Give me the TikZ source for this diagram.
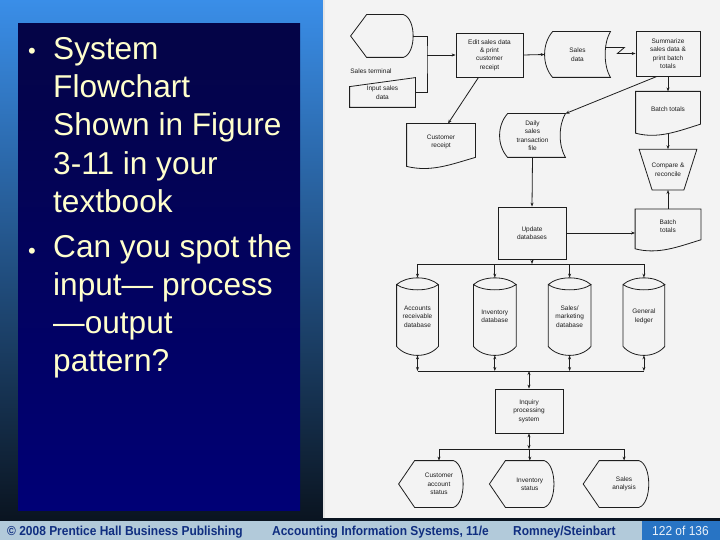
\documentclass[tikz,border=0pt]{standalone}
\usepackage{fontspec}
\setmainfont{Liberation Sans}
\newfontfamily\footfont[FakeStretch=0.92]{Liberation Sans}
\usetikzlibrary{arrows.meta, positioning}

\definecolor{slidetop}{RGB}{58,142,232}
\definecolor{slidemid}{RGB}{36,96,160}
\definecolor{slidebot}{RGB}{10,20,32}
\definecolor{paneltop}{RGB}{4,4,70}
\definecolor{panelbot}{RGB}{0,0,118}
\definecolor{bullettext}{RGB}{255,255,204}
\definecolor{scanbg}{RGB}{243,243,243}
\definecolor{ink}{RGB}{30,30,30}
\definecolor{footbg}{RGB}{178,202,218}
\definecolor{foottext}{RGB}{16,46,128}
\definecolor{pagebox}{RGB}{40,116,196}

\newcommand{\chartsize}{\fontsize{6.5}{8.4}\selectfont}

% flowchart symbols, drawn round a named node
\newcommand{\docshape}[1]{\draw (#1.north west) -- (#1.north east) -- ([yshift=3]#1.south east)
  .. controls ([xshift=10,yshift=-4]#1.south) and ([xshift=-10,yshift=-12]#1.south) .. ([yshift=-6]#1.south west) -- cycle;}
\newcommand{\storeshape}[1]{\draw ([xshift=8]#1.north west) -- (#1.north east)
  .. controls ([xshift=-7,yshift=-12]#1.north east) and ([xshift=-7,yshift=12]#1.south east) .. (#1.south east)
  -- ([xshift=8]#1.south west)
  .. controls ([xshift=-2.7,yshift=12]#1.south west) and ([xshift=-2.7,yshift=-12]#1.north west) .. ([xshift=8]#1.north west) -- cycle;}
\newcommand{\diskshape}[1]{\draw ([yshift=-7]#1.north west)
  .. controls ([xshift=10,yshift=2]#1.north west) and ([xshift=-10,yshift=2]#1.north east) .. ([yshift=-7]#1.north east)
  .. controls ([xshift=-10,yshift=-14]#1.north east) and ([xshift=10,yshift=-14]#1.north west) .. ([yshift=-7]#1.north west)
  -- ([yshift=9]#1.south west)
  .. controls ([xshift=10,yshift=-3]#1.south west) and ([xshift=-10,yshift=-3]#1.south east) .. ([yshift=9]#1.south east)
  -- ([yshift=-7]#1.north east);}
\newcommand{\displayshape}[1]{\draw ([xshift=-16]#1.west) -- (#1.north west) -- ([xshift=-10]#1.north east)
  .. controls ([xshift=3,yshift=-4]#1.north east) and ([xshift=3,yshift=4]#1.south east) .. ([xshift=-10]#1.south east)
  -- (#1.south west) -- cycle;}
\newcommand{\inputshape}[1]{\draw ([yshift=-9]#1.north west) -- (#1.north east) -- (#1.south east) -- (#1.south west) -- cycle;}
\newcommand{\manualshape}[1]{\draw (#1.north west) -- (#1.north east) -- ([xshift=-13]#1.south east) -- ([xshift=13]#1.south west) -- cycle;}

\begin{document}
\begin{tikzpicture}[x=1pt, y=-1pt,
    sym/.style={inner sep=0pt, align=center, font=\chartsize},
    proc/.style={sym, draw},
    arr/.style={-{Stealth[length=4pt, width=3pt]}},
    dbl/.style={{Stealth[length=4pt, width=3pt]}-{Stealth[length=4pt, width=3pt]}},
    bullet/.style={anchor=north west, inner sep=0pt, align=left, text=bullettext, font={\fontsize{31.6}{38.3}\selectfont}},
    dot/.style={inner sep=0pt, text=bullettext, font={\fontsize{22}{22}\selectfont}},
    foot/.style={anchor=base west, inner sep=0pt, text=foottext, font={\footfont\bfseries\fontsize{13}{15}\selectfont}}]
    \useasboundingbox (0,0) rectangle (720,540);
    % slide background
    \shade[top color=slidetop, middle color=slidemid, bottom color=slidebot] (0,0) rectangle (324,521);
    \shade[top color=paneltop, bottom color=panelbot] (18,24) rectangle (300,510);
    \fill[scanbg] (324,0) rectangle (720,518);
    \fill[slidebot] (324,518) rectangle (720,521);
    \draw[white!80!gray, line width=1.5pt] (324,0) -- (324,518);
    \fill[footbg] (0,521) rectangle (720,540);
    \fill[pagebox] (642,521) rectangle (720,540);

    \node[dot] (dot1) at (32,53) {•};
    \node[bullet] (pt1) at (53,37) {System\\Flowchart\\Shown in Figure\\3-11 in your\\textbook};
    \node[dot] (dot2) at (32,253) {•};
    \node[bullet] (pt2) at (53,234) {Can you spot the\\input— process\\—output\\pattern?};

    \node[foot] (copy) at (7,535) {© 2008 Prentice Hall Business Publishing};
    \node[foot] (book) at (272,535) {Accounting Information Systems, 11/e};
    \node[foot] (auth) at (513,535) {Romney/Steinbart};
    \node[foot, font={\footfont\fontsize{13}{15}\selectfont}, text=white!90!pagebox] (page) at (652,535) {122 of 136};

    \begin{scope}[color=ink, line width=0.8pt]
    \node[sym, minimum width=46, minimum height=42] (term) at (390,36) {};
    \node[sym, anchor=west] (termlbl) at (350,71) {Sales terminal};
    \node[sym, minimum width=65, minimum height=29] (input) at (382.5,92.5) {\\[-3pt]Input sales\\data};
    \node[proc, minimum width=67, minimum height=44] (edit) at (489.5,55) {Edit sales data\\\& print\\customer\\receipt};
    \node[sym, minimum width=65, minimum height=45] (salesd) at (577.5,54.5) {Sales\\data};
    \node[proc, minimum width=64, minimum height=45] (summ) at (668,53.5) {Summarize\\sales data \&\\print batch\\totals};
    \node[sym, minimum width=64, minimum height=35, below=15pt of summ] (batch1) {Batch totals};
    \node[sym, minimum width=57, minimum height=40, below=22pt of batch1] (compare) {Compare \&\\reconcile};
    \node[sym, minimum width=65, minimum height=33, below=19pt of compare] (batch2) {Batch\\totals};
    \node[sym, minimum width=68, minimum height=36] (receipt) at (441,142) {Customer\\receipt};
    \node[sym, minimum width=65, minimum height=43] (daily) at (532.5,135.5) {Daily\\sales\\transaction\\file};
    \node[proc, minimum width=68, minimum height=52] (update) at (532,233) {Update\\databases};
    \node[sym, minimum width=41, minimum height=77] (recv) at (417.5,316.5) {Accounts\\receivable\\database};
    \node[sym, minimum width=42, minimum height=77, right=35pt of recv] (inv) {Inventory\\database};
    \node[sym, minimum width=42, minimum height=77, right=32pt of inv] (mkt) {Sales/\\marketing\\database};
    \node[sym, minimum width=41, minimum height=77, right=32pt of mkt] (ledger) {General\\ledger};
    \node[proc, minimum width=68, minimum height=44] (inquiry) at (529,411) {Inquiry\\processing\\system};
    \node[sym, minimum width=48, minimum height=46] (custout) at (439,484) {Customer\\account\\status};
    \node[sym, minimum width=48, minimum height=46, right=42pt of custout] (invout) {Inventory\\status};
    \node[sym, minimum width=49, minimum height=46, right=45pt of invout] (salesout) {Sales\\analysis};

    \displayshape{term}
    \inputshape{input}
    \storeshape{salesd}
    \storeshape{daily}
    \docshape{batch1}
    \docshape{batch2}
    \docshape{receipt}
    \manualshape{compare}
    \foreach \d in {recv,inv,mkt,ledger} {\diskshape{\d}}
    \foreach \o in {custout,invout,salesout} {\displayshape{\o}}

    % input side
    \coordinate (join) at (427,55);
    \draw (term.east) -| (join) |- (input.east);
    \draw[arr] (join) -- (edit.west);
    \draw[arr] (edit.east) -- (salesd.west);
    \draw[arr] ([xshift=-5,yshift=7]salesd.east) -- ++(19,0) -- ++(-7,6) -- (summ.west);
    \draw[arr] ([xshift=-11]edit.south) -- ([xshift=7]receipt.north);
    \draw[arr] (summ.south) -- (batch1.north);
    \draw[arr] ([xshift=-11]summ.south) -- (daily.north east);
    \draw[arr] ([yshift=-6]batch1.south) -- (compare.north);
    \draw[arr] (batch2.north) -- (compare.south);
    \draw[arr] (daily.south) -- (update.north);
    \draw[arr] (update.east) -- (update.east -| batch2.west);

    % databases
    \coordinate (dbbus) at (532,264);
    \draw[arr] (update.south) -- (dbbus);
    \draw (recv.north |- dbbus) -- (ledger.north |- dbbus);
    \foreach \d in {recv,inv,mkt,ledger} {\draw[arr] (\d.north |- dbbus) -- (\d.north);}
    \coordinate (qbus) at (529,371);
    \draw (recv.south |- qbus) -- (ledger.south |- qbus);
    \foreach \d in {recv,inv,mkt,ledger} {\draw[dbl] (\d.south) -- (\d.south |- qbus);}
    \draw[dbl] (qbus) -- (inquiry.north);

    % inquiry outputs
    \coordinate (obus) at (529,449);
    \draw[dbl] (inquiry.south) -- (obus);
    \draw (custout.north |- obus) -- (salesout.north |- obus);
    \foreach \o in {custout,invout,salesout} {\draw[arr] (\o.north |- obus) -- (\o.north);}
    \end{scope}
\end{tikzpicture}
\end{document}
